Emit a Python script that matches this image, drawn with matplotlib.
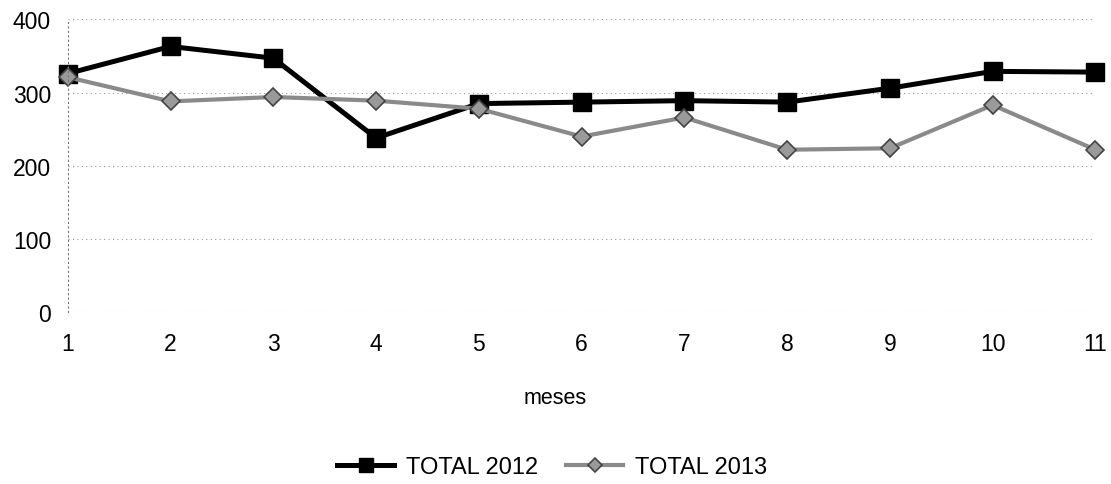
import matplotlib.pyplot as plt

plt.rcParams["font.family"] = ["Liberation Sans", "DejaVu Sans"]

meses = [1, 2, 3, 4, 5, 6, 7, 8, 9, 10, 11]
total_2012 = [326, 363, 347, 238, 285, 287, 289, 287, 306, 329, 328]
total_2013 = [321, 288, 294, 289, 278, 240, 266, 222, 224, 283, 222]

fig = plt.figure(figsize=(11.11, 4.85), dpi=100)
ax = fig.add_axes([0.061, 0.354, 0.925, 0.604])

ax.plot(meses, total_2012, color="black", linewidth=3.6, marker="s",
        markersize=12.5, markerfacecolor="black", label="TOTAL 2012", clip_on=False)
ax.plot(meses, total_2013, color="#8a8a8a", linewidth=3.0, marker="D",
        markersize=9, markerfacecolor="#9a9a9a", markeredgecolor="#444444",
        markeredgewidth=1.2, label="TOTAL 2013", clip_on=False)

ax.set_xlim(1, 11)
ax.set_ylim(0, 400)
ax.set_xticks(meses)
ax.set_yticks([0, 100, 200, 300, 400])
ax.tick_params(axis="y", length=0, labelsize=16.5, pad=12)
ax.tick_params(axis="x", length=0, labelsize=16.5, pad=14)
ax.yaxis.grid(True, linestyle=(0, (1, 3)), color="#999999", linewidth=0.8)
for s in ["top", "right", "bottom"]:
    ax.spines[s].set_visible(False)
ax.spines["left"].set_linestyle((0, (1, 3)))
ax.spines["left"].set_color("#777777")
ax.set_xlabel("meses", fontsize=15.5)
ax.xaxis.set_label_coords(0.474, -0.255)

fig.legend(loc="lower center", bbox_to_anchor=(0.497, -0.032), ncol=2, frameon=False,
           fontsize=17, handlelength=2.4, columnspacing=1.2, handletextpad=0.5,
           markerscale=0.75)

fig.savefig("out.png", dpi=100)
